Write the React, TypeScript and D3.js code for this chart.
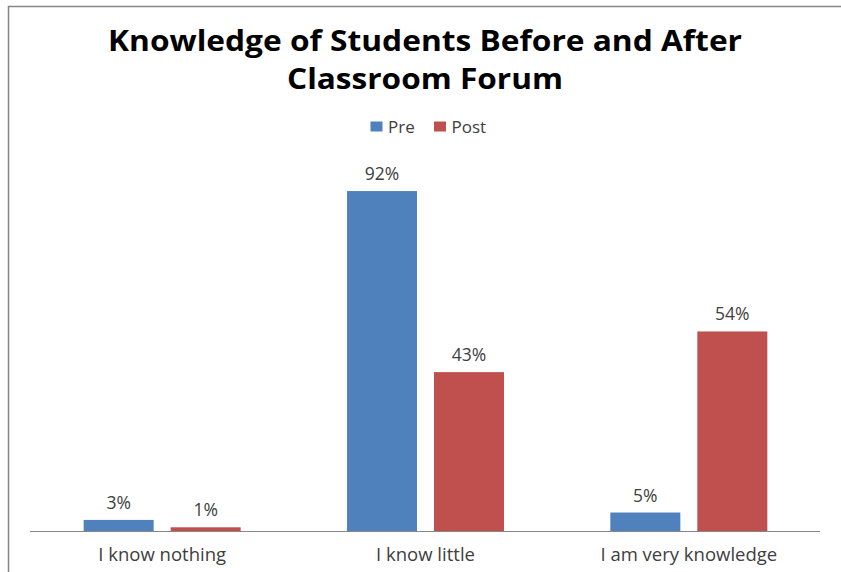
import React from "react";
import * as d3 from "d3";

const categories = ["I know nothing", "I know little", "I am very knowledge"];
const seriesNames = ["Pre", "Post"];
const preValues = [3, 92, 5];
const postValues = [1, 43, 54];
const seriesColors = ["#4F81BD", "#C0504D"];

const W = 841;
const H = 572;

export default function App() {
  const x0 = d3.scaleBand<string>().domain(categories).range([30.5, 820.5]).paddingInner(0).paddingOuter(0);
  const bw = x0.bandwidth();
  const barW = 70;
  const gap = 17;
  const x1 = d3
    .scaleOrdinal<string, number>()
    .domain(seriesNames)
    .range([(bw - (2 * barW + gap)) / 2, (bw - (2 * barW + gap)) / 2 + barW + gap]);
  const y = d3.scaleLinear().domain([0, 100]).range([531, 161.5]);
  const series = [preValues, postValues];
  const font = "'Open Sans', 'Noto Sans', sans-serif";

  return (
    <svg
      width={W}
      height={H}
      style={{ position: "absolute", left: 0, top: 0, background: "#fff" }}
      fontFamily={font}
    >
      <rect x={8.5} y={6.5} width={W + 20} height={H + 20} fill="none" stroke="#868686" strokeWidth={1.5} />
      <text x={425} y={51} textAnchor="middle" fontSize={28} fontWeight="bold" fill="#000" textLength={634} lengthAdjust="spacingAndGlyphs">
        Knowledge of Students Before and After
      </text>
      <text x={425} y={89} textAnchor="middle" fontSize={28} fontWeight="bold" fill="#000" textLength={276} lengthAdjust="spacingAndGlyphs">
        Classroom Forum
      </text>
      {seriesNames.map((s, i) => {
        const lx = i === 0 ? 370.5 : 434;
        return (
          <g key={s}>
            <rect x={lx} y={121.5} width={12} height={10} fill={seriesColors[i]} />
            <text x={lx + 17.5} y={132.5} fontSize={17} fill="#404040">
              {s}
            </text>
          </g>
        );
      })}
      {categories.map((c, ci) => (
        <g key={c}>
          {seriesNames.map((s, si) => {
            const v = series[si][ci];
            const bx = (x0(c) as number) + x1(s);
            return (
              <g key={s}>
                <rect x={bx} y={y(v)} width={barW} height={y(0) - y(v)} fill={seriesColors[si]} />
                <text x={bx + barW / 2} y={y(v) - 11} textAnchor="middle" fontSize={17.5} fill="#404040">
                  {v + "%"}
                </text>
              </g>
            );
          })}
          <text x={(x0(c) as number) + bw / 2} y={561} textAnchor="middle" fontSize={18.5} fill="#404040">
            {c}
          </text>
        </g>
      ))}
      <line x1={30} x2={820} y1={531.5} y2={531.5} stroke="#868686" strokeWidth={1} />
    </svg>
  );
}
